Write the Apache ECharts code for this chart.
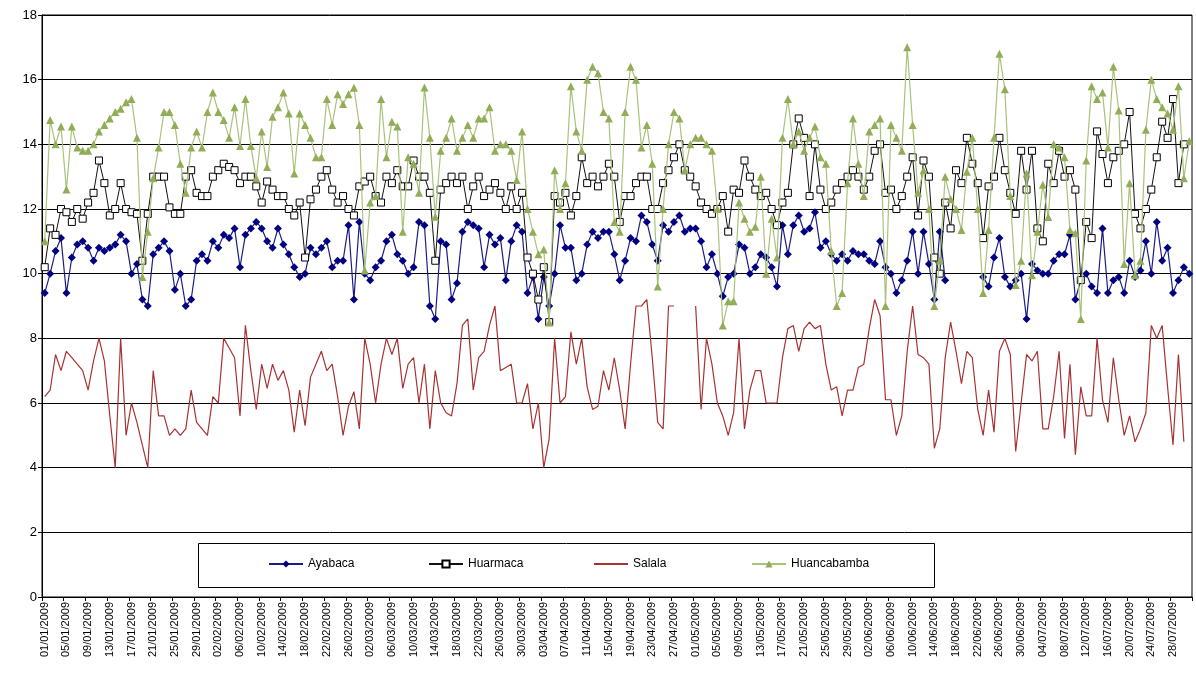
<!DOCTYPE html>
<html>
<head>
<meta charset="utf-8">
<script src="https://cdn.jsdelivr.net/npm/echarts@6/dist/echarts.min.js"></script>
<style>
  html, body { margin: 0; padding: 0; background: #fff; }
  #chart { width: 1196px; height: 686px; }
</style>
</head>
<body>
<div id="chart"></div>
<script>
// Daily temperatures, 01/01/2009 - 31/07/2009 (one value per day, null = no reading)
const startDate = [2009, 0, 1];
const dayCount = 212;

const yTicks = [0, 2, 4, 6, 8, 10, 12, 14, 16, 18];

const ayabaca = [
  9.4, 10.0, 10.7, 11.1, 9.4, 10.5, 10.9, 11.0, 10.8, 10.4,
  10.8, 10.7, 10.8, 10.9, 11.2, 11.0, 10.0, 10.3, 9.2, 9.0,
  10.6, 10.8, 11.0, 10.7, 9.5, 10.0, 9.0, 9.2, 10.4, 10.6,
  10.4, 11.0, 10.8, 11.2, 11.1, 11.4, 10.2, 11.2, 11.4, 11.6,
  11.4, 11.0, 10.8, 11.4, 10.9, 10.6, 10.2, 9.9, 10.0, 10.8,
  10.6, 10.8, 11.0, 10.2, 10.4, 10.4, 11.5, 9.2, 11.6, 10.0,
  9.8, 10.2, 10.4, 11.0, 11.2, 10.6, 10.4, 10.0, 10.2, 11.6,
  11.5, 9.0, 8.6, 11.0, 10.9, 9.2, 9.7, 11.3, 11.6, 11.5,
  11.4, 10.2, 11.2, 10.9, 11.1, 9.8, 11.0, 11.5, 11.3, 9.4,
  9.9, 8.6, 9.9, 9.0, 10.0, 11.5, 10.8, 10.8, 9.8, 10.0,
  10.9, 11.3, 11.1, 11.3, 11.3, 10.6, 9.8, 10.4, 11.1, 11.0,
  11.8, 11.6, 10.9, 10.4, 11.5, 11.3, 11.6, 11.8, 11.3, 11.4,
  11.4, 11.0, 10.2, 10.6, 10.0, 9.3, 9.9, 10.0, 10.9, 10.8,
  10.0, 10.2, 10.6, 10.5, 10.2, 9.6, 11.5, 10.6, 11.5, 11.8,
  11.3, 11.4, 11.9, 10.8, 11.0, 10.6, 10.4, 10.6, 10.4, 10.7,
  10.6, 10.6, 10.4, 10.3, 11.0, 10.2, 10.0, 9.4, 9.8, 10.4,
  11.3, 10.0, 11.3, 10.3, 9.2, 11.3, 9.8, null, null, null,
  null, null, null, 9.9, 9.6, 10.5, 11.1, 9.9, 9.6, 9.8,
  10.0, 8.6, 10.3, 10.1, 10.0, 10.0, 10.4, 10.6, 10.6, 11.2,
  9.2, 9.8, 10.0, 9.6, 9.4, 11.4, 9.4, 9.8, 9.9, 9.4,
  10.4, 9.9, 10.1, 11.0, 10.0, 11.6, 10.4, 10.8, 9.4, 9.8,
  10.2, 10.0
];

const huarmaca = [
  10.2, 11.4, 11.2, 12.0, 11.9, 11.6, 12.0, 11.7, 12.2, 12.5,
  13.5, 12.8, 11.8, 12.0, 12.8, 12.0, 11.9, 11.85, 10.4, 11.85,
  13.0, 13.0, 13.0, 12.05, 11.85, 11.85, 13.0, 13.2, 12.5, 12.4,
  12.4, 13.0, 13.2, 13.4, 13.3, 13.2, 12.8, 13.0, 13.0, 12.7,
  12.2, 12.85, 12.6, 12.4, 12.4, 12.0, 11.8, 12.2, 10.5, 12.3,
  12.6, 13.0, 13.2, 12.6, 12.2, 12.4, 12.0, 11.8, 12.7, 12.85,
  13.0, 12.4, 12.2, 13.0, 12.8, 13.2, 12.7, 12.7, 13.5, 13.0,
  13.0, 12.5, 10.4, 12.6, 12.8, 13.0, 12.8, 13.0, 12.0, 12.7,
  13.0, 12.4, 12.6, 12.8, 12.5, 12.0, 12.7, 12.0, 12.5, 10.5,
  10.0, 9.2, 10.2, 8.5, 12.4, 12.2, 12.5, 11.8, 12.4, 13.6,
  12.8, 13.0, 12.7, 13.0, 13.4, 13.0, 11.6, 12.4, 12.4, 12.8,
  13.0, 13.0, 12.0, 12.0, 12.8, 13.2, 13.6, 14.0, 13.2, 13.0,
  12.7, 12.2, 12.0, 11.85, 12.0, 12.4, 11.3, 12.6, 12.5, 13.5,
  13.0, 12.6, 12.4, 12.5, 12.0, 11.5, 12.2, 12.5, 14.0, 14.8,
  14.2, 12.4, 14.0, 12.6, 12.0, 12.2, 12.6, 12.8, 13.0, 13.2,
  13.0, 12.6, 13.0, 13.8, 14.0, 12.5, 12.6, 12.0, 12.4, 13.0,
  13.6, 11.8, 13.5, 13.0, 10.5, 10.0, 12.2, 11.4, 13.2, 12.8,
  14.2, 13.4, 12.8, 11.1, 12.7, 13.0, 14.2, 13.2, 12.5, 11.85,
  13.8, 12.6, 13.8, 11.4, 11.0, 13.4, 12.8, 13.8, 13.0, 13.2,
  12.6, 9.8, 11.6, 11.1, 14.4, 13.7, 12.8, 13.6, 13.8, 14.0,
  15.0, 11.85, 11.4, 12.0, 12.6, 13.6, 14.7, 14.2, 15.4, 12.8,
  14.0, null
];

const salala = [
  6.2, 6.4, 7.5, 7.0, 7.6, 7.4, 7.2, 7.0, 6.4, 7.3,
  8.0, 7.3, 5.6, 4.0, 8.0, 5.0, 6.0, 5.4, 4.7, 4.0,
  7.0, 5.6, 5.6, 5.0, 5.2, 5.0, 5.2, 6.4, 5.4, 5.2,
  5.0, 6.2, 6.0, 8.0, 7.7, 7.4, 5.6, 8.4, 7.0, 5.8,
  7.2, 6.45, 7.2, 6.7, 7.0, 6.4, 5.1, 6.4, 5.3, 6.8,
  7.2, 7.6, 7.0, 7.2, 6.2, 5.0, 5.9, 6.35, 5.2, 8.0,
  7.2, 6.0, 7.2, 8.0, 7.5, 8.0, 6.45, 7.2, 7.4, 6.0,
  7.2, 5.2, 7.0, 6.0, 5.7, 5.6, 6.6, 8.4, 8.6, 6.4,
  7.4, 7.6, 8.4, 9.0, 7.0, 7.1, 7.2, 6.0, 6.0, 6.6,
  5.2, 6.0, 4.0, 4.9, 8.0, 6.0, 6.2, 8.2, 7.2, 8.0,
  6.5, 5.8, 5.9, 7.0, 6.4, 7.4, 6.4, 5.2, 7.2, 9.0,
  9.0, 9.2, 7.4, 5.4, 5.2, 9.0, 9.0, null, null, null,
  9.0, 5.8, 8.0, 7.2, 6.0, 5.6, 5.0, 5.7, 8.0, 5.2,
  6.4, 7.0, 7.0, 6.0, 6.0, 6.0, 7.4, 8.3, 8.4, 7.6,
  8.3, 8.5, 8.3, 8.4, 7.2, 6.4, 6.5, 5.6, 6.4, 6.4,
  7.1, 7.2, 8.3, 9.2, 8.7, 6.1, 6.1, 5.0, 5.6, 7.6,
  9.0, 7.5, 7.4, 7.2, 4.6, 5.2, 7.4, 8.5, 7.6, 6.6,
  7.6, 7.4, 5.8, 5.0, 6.4, 5.1, 7.6, 8.0, 7.5, 4.5,
  6.0, 7.5, 7.3, 7.6, 5.2, 5.2, 6.2, 7.6, 4.9, 7.2,
  4.4, 6.5, 5.6, 5.6, 8.0, 6.1, 5.4, 7.4, 6.1, 5.0,
  5.6, 4.8, 5.2, 5.7, 8.4, 8.0, 8.4, 6.5, 4.7, 7.5,
  4.8, null
];

const huancabamba = [
  11.0, 14.75, 14.0, 14.55, 12.6, 14.55, 13.9, 13.8, 13.8, 14.0,
  14.4, 14.6, 14.8, 15.0, 15.1, 15.3, 15.4, 14.2, 9.9, 11.3,
  12.95, 13.9, 15.0, 15.0, 14.6, 13.4, 12.5, 13.9, 14.4, 13.9,
  15.0, 15.6, 15.0, 14.75, 14.2, 15.15, 13.95, 15.4, 13.95, 12.95,
  14.4, 13.3, 14.85, 15.15, 15.6, 14.95, 13.1, 14.95, 14.6, 14.2,
  13.6, 13.6, 15.4, 14.6, 15.55, 15.25, 15.55, 15.75, 14.6, 10.1,
  12.2, 12.4, 15.4, 13.6, 14.7, 14.55, 11.3, 13.6, 13.4, 12.5,
  15.76, 14.2, 11.76, 13.8, 14.2, 14.8, 13.8, 14.2, 14.6, 14.2,
  14.8, 14.8, 15.15, 13.8, 14.0, 14.0, 13.8, 12.9, 14.4, 12.0,
  11.3, 10.6, 10.75, 8.5, 13.2, 12.0, 12.8, 15.8, 14.4, 13.8,
  16.0, 16.4, 16.2, 15.0, 14.8, 11.6, 11.3, 15.0, 16.4, 16.0,
  13.9, 14.6, 13.4, 9.6, 12.0, 14.0, 15.0, 14.8, 13.2, 14.0,
  14.2, 14.2, 14.0, 13.8, 12.0, 8.4, 9.15, 9.15, 12.2, 11.7,
  11.3, 11.45, 13.0, 10.0, 11.7, 10.5, 14.2, 15.4, 14.0, 14.4,
  13.8, 14.2, 14.55, 13.6, 13.4, 10.7, 9.0, 9.4, 12.8, 14.8,
  13.4, 12.4, 14.4, 14.6, 14.8, 9.0, 14.6, 14.2, 13.8, 17.0,
  14.6, 12.5, 13.2, 12.0, 9.0, 10.4, 13.0, 12.3, 12.0, 11.35,
  13.15, 14.2, 12.0, 9.4, 11.35, 14.2, 16.8, 15.7, 12.4, 9.65,
  10.4, 13.1, 9.95, 11.3, 12.75, 11.75, 14.0, 13.9, 13.6, 11.35,
  11.25, 8.6, 13.5, 15.8, 15.4, 15.6, 13.9, 16.4, 15.05, 10.3,
  12.8, 9.95, 10.4, 14.45, 16.0, 15.4, 15.15, 14.95, 14.45, 15.8,
  12.95, 14.1
];

// Day labels dd/mm/yyyy
function pad(n) { return n < 10 ? '0' + n : '' + n; }
const categories = [];
for (let d = 0; d < dayCount; d++) {
  const dt = new Date(Date.UTC(startDate[0], startDate[1], startDate[2] + d));
  categories.push(pad(dt.getUTCDate()) + '/' + pad(dt.getUTCMonth() + 1) + '/' + dt.getUTCFullYear());
}

const FONT = 'Liberation Sans, Arial, sans-serif';

const chart = echarts.init(document.getElementById('chart'), null, { renderer: 'canvas' });

function legendAt(name, left, opts) {
  return Object.assign({
    data: [name],
    left: left,
    top: 558,
    itemWidth: 34,
    itemHeight: 9,
    itemGap: 0,
    padding: 0,
    textStyle: { fontFamily: FONT, fontSize: 12, color: '#000' },
    selectedMode: false
  }, opts || {});
}

chart.setOption({
  animation: false,
  backgroundColor: '#fff',
  textStyle: { fontFamily: FONT },
  grid: {
    left: 42, right: 4, top: 15, bottom: 89,
    show: true, borderColor: '#000', borderWidth: 1, backgroundColor: '#fff'
  },
  graphic: [{
    type: 'rect',
    z: 3,
    shape: { x: 198.5, y: 543.5, width: 736, height: 44 },
    style: { fill: '#fff', stroke: '#000', lineWidth: 1 }
  }],
  legend: [
    legendAt('Ayabaca', 268),
    legendAt('Huarmaca', 428),
    // plain line key for the marker-less series
    legendAt('Salala', 594, {
      data: [{ name: 'Salala', icon: 'rect' }],
      itemHeight: 2
    }),
    legendAt('Huancabamba', 751)
  ],
  xAxis: {
    type: 'category',
    data: categories,
    boundaryGap: true,
    axisLine: { lineStyle: { color: '#000', width: 1 } },
    axisTick: { show: true, interval: 3, length: 4, lineStyle: { color: '#000' } },
    axisLabel: {
      interval: 3, rotate: 90, fontSize: 11, color: '#000',
      fontFamily: FONT, margin: 5
    },
    splitLine: { show: false }
  },
  yAxis: {
    type: 'value',
    min: yTicks[0],
    max: yTicks[yTicks.length - 1],
    interval: 2,
    axisLine: { show: true, lineStyle: { color: '#000', width: 1 } },
    axisTick: { show: true, length: 4, lineStyle: { color: '#000' } },
    axisLabel: { fontSize: 13, color: '#000', fontFamily: FONT, margin: 5 },
    splitLine: { show: true, lineStyle: { color: '#000', width: 1 } }
  },
  series: [
    {
      name: 'Ayabaca', type: 'line', data: ayabaca,
      symbol: 'diamond', symbolSize: 8, showAllSymbol: true,
      connectNulls: false,
      lineStyle: { color: '#1c1c86', width: 1.2 },
      itemStyle: { color: '#000080', borderColor: '#000080', borderWidth: 0 },
      z: 4
    },
    {
      name: 'Huarmaca', type: 'line', data: huarmaca,
      symbol: 'rect', symbolSize: 7, showAllSymbol: true,
      connectNulls: false,
      lineStyle: { color: '#111', width: 1 },
      itemStyle: { color: '#fff', borderColor: '#000', borderWidth: 1 },
      z: 5
    },
    {
      name: 'Salala', type: 'line', data: salala,
      symbol: 'none', showSymbol: false,
      connectNulls: false,
      lineStyle: { color: '#a83232', width: 1.2 },
      itemStyle: { color: '#a83232' },
      z: 3
    },
    {
      name: 'Huancabamba', type: 'line', data: huancabamba,
      symbol: 'triangle', symbolSize: 8, showAllSymbol: true,
      connectNulls: false,
      lineStyle: { color: '#a9c27a', width: 1.2 },
      itemStyle: { color: '#92ad58', borderWidth: 0 },
      z: 6
    }
  ]
});
</script>
</body>
</html>
